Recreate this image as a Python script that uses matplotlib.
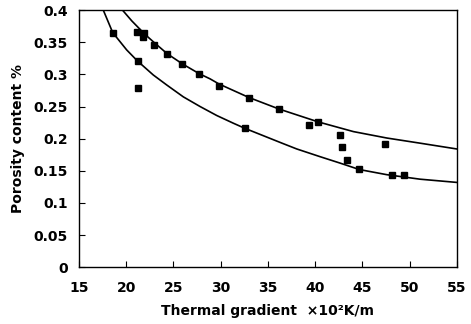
import matplotlib
matplotlib.use('Agg')
import matplotlib.pyplot as plt

# measured points
grad = [18.6, 21.1, 21.9, 21.8, 22.9, 24.3, 25.9, 27.7, 29.8, 21.2, 21.3,
        33.0, 36.2, 39.4, 40.3, 42.6, 42.8, 43.4, 47.4, 32.6, 44.7, 48.1, 49.4]
poro = [0.365, 0.366, 0.364, 0.358, 0.345, 0.332, 0.316, 0.300, 0.282, 0.320, 0.279,
        0.264, 0.246, 0.222, 0.226, 0.205, 0.187, 0.167, 0.191, 0.216, 0.153, 0.1435, 0.144]

# upper curve
up_x = [19.6, 20.6, 22.0, 23.0, 24.35, 25.98, 27.74, 28.88, 29.83, 33.0, 36.2, 40.35, 44.06, 47.6, 51.12, 55.0]
up_y = [0.400, 0.383, 0.362, 0.349, 0.332, 0.316, 0.301, 0.293, 0.285, 0.264, 0.246, 0.226, 0.211, 0.201, 0.193, 0.184]

# lower curve
lo_x = [17.57, 18.57, 20.05, 21.18, 22.87, 24.29, 26.05, 27.82, 29.59, 31.35, 32.58, 36.5, 38.06, 40.53, 42.65, 44.69, 47.6, 51.12, 55.0]
lo_y = [0.400, 0.365, 0.338, 0.321, 0.299, 0.2835, 0.265, 0.250, 0.236, 0.224, 0.216, 0.193, 0.184, 0.172, 0.162, 0.152, 0.144, 0.137, 0.132]

xticks = [15, 20, 25, 30, 35, 40, 45, 50, 55]
yticks = [0, 0.05, 0.1, 0.15, 0.2, 0.25, 0.3, 0.35, 0.4]
ylabels = ['0', '0.05', '0.1', '0.15', '0.2', '0.25', '0.3', '0.35', '0.4']

fig = plt.figure(figsize=(4.71, 3.24), dpi=100)
ax = fig.add_axes([0.1677, 0.175, 0.802, 0.794])

ax.plot(up_x, up_y, color='black', lw=1.2)
ax.plot(lo_x, lo_y, color='black', lw=1.2)
ax.plot(grad, poro, 's', color='black', markersize=4)

ax.set_xlim(15, 55)
ax.set_ylim(0, 0.4)
ax.set_xticks(xticks)
ax.set_yticks(yticks)
ax.set_yticklabels(ylabels)
ax.tick_params(direction='in', length=4, width=0.8, labelsize=10)
ax.tick_params(axis='x', pad=10)
ax.tick_params(axis='y', pad=8)
for lab in ax.get_xticklabels() + ax.get_yticklabels():
    lab.set_fontweight('bold')
for s in ax.spines.values():
    s.set_linewidth(1.0)

ax.set_xlabel('Thermal gradient  ×10²K/m', fontsize=10, fontweight='bold', labelpad=6)
ax.set_ylabel('Porosity content %', fontsize=10, fontweight='bold', labelpad=6)

fig.savefig('out.png', dpi=100)
